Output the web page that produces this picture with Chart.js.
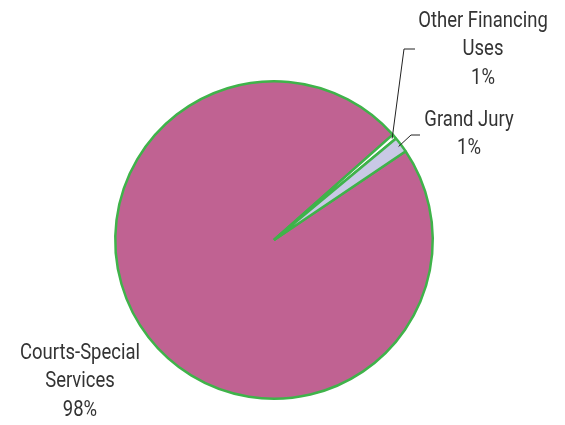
<!DOCTYPE html>
<html>
<head>
<meta charset="utf-8">
<script src="https://cdn.jsdelivr.net/npm/chart.js@4"></script>
<style>
  body { margin: 0; background: #fff; }
  canvas { display: block; }
</style>
</head>
<body>
<canvas id="pie" width="565" height="425"></canvas>
<script>
const categories = ['Courts-Special Services', 'Other Financing Uses', 'Grand Jury'];
const shares = [97.9, 0.5, 1.6];
const pctLabels = ['98%', '1%', '1%'];
const sliceColors = ['#c06292', '#ffffff', '#c9c9e6'];

// label text lines and where each block sits (text centre x, first-line y), plus leader elbow
const labelLines = [['Courts-Special', 'Services', '98%'], ['Other Financing', 'Uses', '1%'], ['Grand Jury', '1%']];
const labelSpots = [
  { x: 80, y: 353, line: null },
  { x: 483, y: 21, line: { ex: 404, ey: 49, hx: 415 } },
  { x: 469, y: 120, line: { ex: 411, ey: 135, hx: 420 } }
];

const FONT = '22px Roboto, "Liberation Sans", sans-serif';

const pieLabels = {
  id: 'pieLabels',
  afterDatasetsDraw(chart) {
    const ctx = chart.ctx;
    const arcs = chart.getDatasetMeta(0).data;
    ctx.save();
    ctx.font = FONT;
    ctx.fillStyle = '#333';
    ctx.textAlign = 'center';
    ctx.textBaseline = 'middle';
    arcs.forEach((arc, i) => {
      const spot = labelSpots[i];
      labelLines[i].forEach((t, k) => {
        // condensed face, like the original narrow font
        ctx.save();
        ctx.translate(spot.x, spot.y + k * 28.8);
        ctx.scale(0.84, 1);
        ctx.fillText(t, 0, 0);
        ctx.restore();
      });
      if (spot.line) {
        const p = arc.getProps(['x', 'y', 'startAngle', 'endAngle', 'outerRadius'], true);
        const mid = (p.startAngle + p.endAngle) / 2;
        const r = p.outerRadius - 3;
        ctx.beginPath();
        ctx.strokeStyle = '#222';
        ctx.lineWidth = 1;
        ctx.moveTo(p.x + Math.cos(mid) * r, p.y + Math.sin(mid) * r);
        ctx.lineTo(spot.line.ex, spot.line.ey);
        ctx.lineTo(spot.line.hx, spot.line.ey);
        ctx.stroke();
      }
    });
    ctx.restore();
  }
};

new Chart(document.getElementById('pie'), {
  type: 'pie',
  data: {
    labels: categories,
    datasets: [{
      data: shares,
      backgroundColor: sliceColors,
      borderColor: '#3fb34a',
      borderWidth: 2.5
    }]
  },
  options: {
    responsive: false,
    animation: false,
    rotation: 56,
    layout: { padding: { left: 114, right: 131, top: 80, bottom: 25 } },
    plugins: {
      legend: { display: false },
      tooltip: { enabled: false }
    }
  },
  plugins: [pieLabels]
});
</script>
</body>
</html>
